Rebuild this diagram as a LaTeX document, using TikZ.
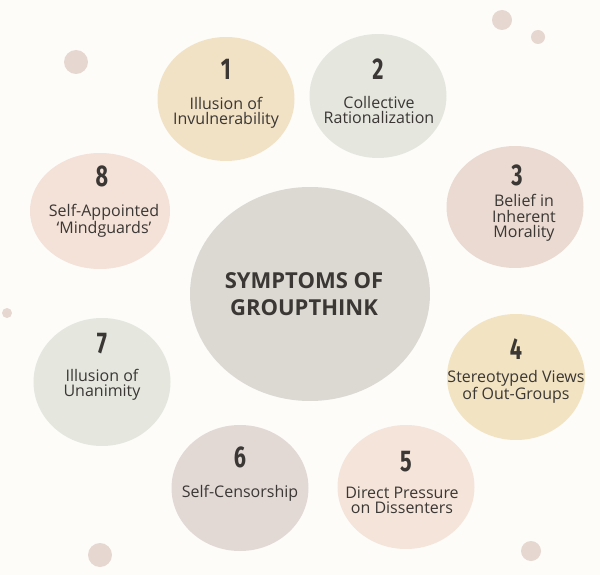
\documentclass[tikz,border=0pt]{standalone}
\usepackage{fontspec}
\setmainfont{Open Sans}
\newfontfamily\numfont[FakeStretch=0.72]{Fira Sans}
\usetikzlibrary{shapes.geometric,calc}

\definecolor{paper}{HTML}{FDFCF9}
\definecolor{tan}{HTML}{F2E2C5}
\definecolor{sage}{HTML}{E5E7DF}
\definecolor{rose}{HTML}{EADAD2}
\definecolor{sand}{HTML}{F2E3C3}
\definecolor{peach}{HTML}{F5E4DA}
\definecolor{mauve}{HTML}{E2D9D5}
\definecolor{blush}{HTML}{F4E1D7}
\definecolor{corefill}{HTML}{DBD9D2}
\definecolor{dotfill}{HTML}{E7D7D1}
\definecolor{ink}{HTML}{3A3734}

\begin{document}
\begin{tikzpicture}[x=1pt, y=-1pt,
    blob/.style={ellipse, inner sep=0pt, minimum width=137pt, minimum height=124pt},
    num/.style={font=\numfont\bfseries\fontsize{30}{30}\selectfont, text=ink},
    lbl/.style={font=\fontsize{16}{15.5}\selectfont, text=ink, align=center},
    spot/.style={circle, inner sep=0pt, fill=dotfill}]
  \fill[paper] (0,0) rectangle (600,575);
  \useasboundingbox (0,0) rectangle (600,575);

  % small dots
  \node[spot, minimum size=20pt] (spotA) at (502,20) {};
  \node[spot, minimum size=14pt] (spotB) at (538,37) {};
  \node[spot, minimum size=24pt] (spotC) at (76,62) {};
  \node[spot, minimum size=10pt] (spotD) at (7,313) {};
  \node[spot, minimum size=24pt] (spotE) at (100,555) {};
  \node[spot, minimum size=20pt] (spotF) at (531,551) {};

  % centre
  \node[blob, fill=corefill, minimum width=240pt, minimum height=214pt] (core) at (310,294) {};
  \node[font=\bfseries\fontsize{22}{27}\selectfont, text=ink, align=center] (title) at (304,294) {SYMPTOMS OF\\GROUPTHINK};

  % symptoms
  \node[blob, fill=tan] (c1) at (226,99) {};
  \node[num] (n1) at ($(c1)+(0,-30)$) {1};
  \node[lbl] (t1) at ($(c1)+(0,14)$) {Illusion of\\Invulnerability};

  \node[blob, fill=sage] (c2) at (378,96) {};
  \node[num] (n2) at ($(c2)+(0,-27)$) {2};
  \node[lbl] (t2) at ($(c2)+(1,14)$) {Collective\\Rationalization};

  \node[blob, fill=rose, minimum height=122pt] (c3) at (515,207) {};
  \node[num] (n3) at ($(c3)+(2,-32)$) {3};
  \node[lbl] (t3) at ($(c3)+(9,11)$) {Belief in\\Inherent\\Morality};

  \node[blob, fill=sand, minimum width=138pt, minimum height=126pt] (c4) at (516,377) {};
  \node[num] (n4) at ($(c4)+(0,-28)$) {4};
  \node[lbl] (t4) at ($(c4)+(0,10)$) {Stereotyped Views\\of Out-Groups};

  \node[blob, fill=peach] (c5) at (406,487) {};
  \node[num] (n5) at ($(c5)+(0,-25)$) {5};
  \node[lbl] (t5) at ($(c5)+(-4,13)$) {Direct Pressure\\on Dissenters};

  \node[blob, fill=mauve, minimum height=126pt] (c6) at (240,488) {};
  \node[num] (n6) at ($(c6)+(0,-31)$) {6};
  \node[lbl] (t6) at ($(c6)+(0,5)$) {Self-Censorship};

  \node[blob, fill=sage, minimum height=128pt] (c7) at (102,382) {};
  \node[num] (n7) at ($(c7)+(0,-38)$) {7};
  \node[lbl] (t7) at ($(c7)+(0,3)$) {Illusion of\\Unanimity};

  \node[blob, fill=blush, minimum width=140pt, minimum height=116pt] (c8) at (100,211) {};
  \node[num] (n8) at ($(c8)+(2,-35)$) {8};
  \node[lbl] (t8) at ($(c8)+(4,10)$) {Self-Appointed\\‘Mindguards’};
\end{tikzpicture}
\end{document}
